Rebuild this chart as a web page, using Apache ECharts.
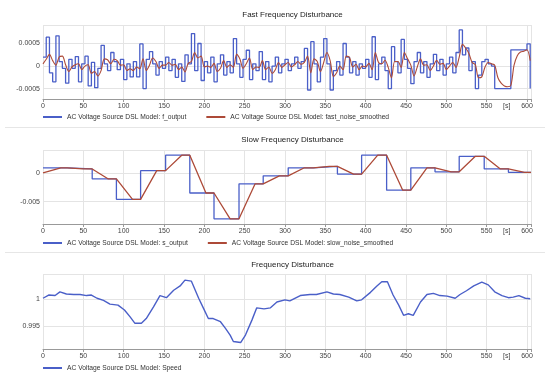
<!DOCTYPE html>
<html><head><meta charset="utf-8">
<script src="https://cdn.jsdelivr.net/npm/echarts@6/dist/echarts.min.js"></script>
<style>html,body{margin:0;padding:0;background:#fff}#c{width:550px;height:381px}</style>
</head><body><div id="c"></div>
<script>
// ---------- data ----------
const xTickLabels = ['0','50','100','150','200','250','300','350','400','450','500','550','[s]','600'];
const xTickValues = [0,50,100,150,200,250,300,350,400,450,500,550,575,600];

// Fast disturbance (values in 1e-4), sampled every 4 s
const fastStepSec = 4;
const fOutput = [
 2, 6.4, -1.5, -3.5, 6.7, 1.0, -0.5, -3.8, 1.5, -0.5,
 2.1, -3.5, 0.5, 2.2, -4.4, 0.8, -4.8, -0.5, 4.6, 0.5,
 -1.0, 3.0, 1.0, -0.8, 1.5, -3.0, 0.5, -2.4, 1.0, -2.4,
 4.9, -5.0, 1.5, 3.2, 0.5, -2.0, 1.0, -0.5, 2.0, -1.0,
 1.5, -2.5, 0.5, -3.4, 2.5, 0.5, 7.2, -1.0, 5.0, -3.2,
 1.0, -1.5, 2.0, -3.5, 0.5, 2.5, -2.0, 1.0, -1.5, 6.1,
 0.5, -2.5, 1.5, 3.5, -3.0, 0.5, -1.0, 3.2, -3.0, 1.0,
 -3.5, 0.0, 2.0, -1.5, 0.5, 1.5, -1.0, 0.5, 2.0, -0.5,
 1.0, 3.9, -5.3, 5.4, 0.5, -3.5, 2.0, 6.1, 0.5, -5.3,
 -1.0, 1.0, -2.0, 5.0, 2.0, -1.5, 1.0, -2.0, 0.5, -0.5,
 1.5, -2.5, 6.5, -3.0, 0.5, 2.0, -1.0, -5.0, 4.3, 1.0,
 -1.5, 5.9, 1.5, -0.5, -3.9, 1.0, 3.0, -1.5, 1.0, -2.5,
 0.5, 2.6, -1.0, 1.5, -2.0, 0.5, 2.0, -1.5, 3.0, 8.0,
 2.5, 4.0, -1.0, 1.0, -5.0, -2.0, 1.0, 1.5, 0.5, 0.0,
 -5.0, -5.0, -5.0, -5.0, -5.0, 3.6, 3.6, 3.6, 3.6, 3.6,
 4.9, -5.0
];
const fastNoiseSmoothed = [
 0.5, 1.5, 2.6, 1.2, 0.2, 2.0, 2.2, 0.3, -1.2, -0.2,
 0.3, 0.5, -0.8, 0, 0.3, -1.6, -1.2, -2.2, -1.0, 1.6,
 1.4, 0.5, 1.5, 1.2, 0.2, 0.3, -1.0, -0.6, -1.0, -0.2,
 -0.6, 1.6, -1.0, 0.2, 1.8, 1.0, -0.5, 0.2, 0.2, 0.8,
 0.2, 0.4, -0.8, -0.2, -1.3, 0.6, 1.0, 3.0, 1.8, 2.2,
 -0.2, 0, -0.3, 0.6, -1.2, -0.5, 1.2, -0.3, 0.3, -0.3,
 2.6, 1.6, -0.5, 0.5, 1.8, -0.8, -0.2, -0.3, 1.2, -0.8,
 -0.2, -1.6, -0.8, 0.8, -0.3, 0.3, 0.8, -0.2, 0.3, 1.0,
 0.4, 0.8, 2.2, -1.5, 1.6, 1.0, -1.2, 0.8, 3.0, 1.2,
 -2.3, -1.5, 0, -0.8, 2.2, 1.9, -0.2, 0.4, -0.8, 0,
 -0.2, 0.6, -0.8, 3.0, 0.8, 0.5, 1.3, -0.3, -2.6, 1.0,
 1.0, -0.3, 3.0, 1.6, 0.2, -2.2, -0.2, 1.6, 0.2, 0.3,
 -1.0, 0, 1.3, 0.4, 0.6, -0.8, 0, 0.8, -0.3, 2.0,
 4.8, 4.0, 2.8, 0.8, 0.3, -2.6, -2.4, -0.2, 0.8, 0.5,
 0.2, -2.6, -3.8, -4.4, -4.6, -4.3, 0.2, 2.3, 3.1, 3.3,
 3.6, 1.2
];

// Slow disturbance (values in 1e-3)
const sOutputT = [0,30,61,91,121,152,182,212,243,273,304,335,365,395,426,456,486,516,547,577,605];
const sOutputV = [0.9,0.7,-1.05,-4.6,0.4,3.1,-3.5,-8.0,-1.9,-0.5,0.9,1.15,-0.2,3.1,-3.0,0.9,0.2,2.9,0.7,0.1,0.1];
const slowSmoothT = [0,22,30,50,61,81,91,111,121,141,152,172,182,202,212,232,243,263,273,293,304,324,335,355,365,385,395,415,426,446,456,476,486,506,516,536,547,567,577,597,605];
const slowSmoothV = [0,0.9,0.9,0.7,0.7,-1.05,-1.05,-4.6,-4.6,0.4,0.4,3.1,3.1,-3.5,-3.5,-8.0,-8.0,-1.9,-1.9,-0.5,-0.5,0.9,0.9,1.15,1.15,-0.2,-0.2,3.1,3.1,-3.0,-3.0,0.9,0.9,0.2,0.2,2.9,2.9,0.7,0.7,0.1,0.1];

// Speed
const speedT = [0,7,15,21,29,38,46,54,60,67,75,83,93,101,108,114,122,128,137,145,153,162,170,176,184,193,199,205,211,220,226,232,236,245,251,259,265,274,282,290,300,306,319,331,339,352,360,368,379,389,395,406,414,420,427,434,441,447,453,459,468,476,484,492,501,511,517,525,534,544,552,560,569,577,583,590,598,604];
const speedV = [1.0002,1.0008,1.0007,1.0014,1.0010,1.0009,1.0009,1.0007,1.0008,1.0002,0.9998,0.9991,0.9989,0.9980,0.9967,0.9955,0.9955,0.9964,0.9986,1.0007,1.0003,1.0017,1.0025,1.0036,1.0034,1.0002,0.9983,0.9964,0.9964,0.9958,0.9946,0.9933,0.9921,0.9919,0.9933,0.9961,0.9984,0.9982,0.9984,0.9995,0.9999,0.9997,1.0007,1.0009,1.0009,1.0014,1.0010,1.0009,1.0004,0.9997,0.9999,1.0013,1.0025,1.0033,1.0033,1.0008,0.9989,0.9970,0.9973,0.9970,0.9995,1.0009,1.0011,1.0007,1.0006,1.0002,1.0009,1.0016,1.0025,1.0032,1.0027,1.0014,1.0007,1.0003,1.0004,1.0007,1.0002,1.0001];

const titles = ['Fast Frequency Disturbance','Slow Frequency Disturbance','Frequency Disturbance'];
const names = ['AC Voltage Source DSL Model: f_output','AC Voltage Source DSL Model: fast_noise_smoothed',
  'AC Voltage Source DSL Model: s_output','AC Voltage Source DSL Model: slow_noise_smoothed',
  'AC Voltage Source DSL Model: Speed'];

// ---------- build ----------
const FONT = 'Liberation Sans, Arial, sans-serif';
const BLUE = '#4a5fc8', RED = '#ad4a38';
const pan = [
  {top:25, h:74, ymin:-0.00073, ymax:0.00091, title:5.5, legend:113.5},
  {top:150, h:74, ymin:-0.0089, ymax:0.0040, title:130.5, legend:239.5},
  {top:274, h:75, ymin:0.99069, ymax:1.00474, title:255.5, legend:364.5}
];
const fastPts = fOutput.map((v,i)=>[i*fastStepSec, v*1e-4]);
const fastSm = fastNoiseSmoothed.map((v,i)=>[i*fastStepSec, v*1e-4]);
const sPts = sOutputT.map((t,i)=>[t, sOutputV[i]*1e-3]);
const sSm = slowSmoothT.map((t,i)=>[t, slowSmoothV[i]*1e-3]);
const spPts = speedT.map((t,i)=>[t, speedV[i]]);

const option = {
  animation:false,
  backgroundColor:'#fff',
  textStyle:{fontFamily:FONT},
  title: pan.map((p,i)=>({text:titles[i], left:287.5, textAlign:'center', top:p.title,
    textStyle:{fontSize:8, fontWeight:'normal', color:'#222', fontFamily:FONT}})),
  legend: [
    {data:[names[0],names[1]]},
    {data:[names[2],names[3]]},
    {data:[names[4]]}
  ].map((l,i)=>Object.assign(l,{left:43, top:pan[i].legend, padding:0, itemGap:20, itemWidth:19, itemHeight:2,
     icon:'rect', textStyle:{fontSize:6.7, color:'#333', fontFamily:FONT}})),
  grid: pan.map(p=>({left:43, right:19, top:p.top, height:p.h})),
  xAxis: pan.map((p,i)=>({type:'value', gridIndex:i, min:0, max:605, interval:50,
    axisLine:{onZero:false, lineStyle:{color:'#999'}}, axisTick:{show:true,length:3,lineStyle:{color:'#999'}},
    splitLine:{show:true, lineStyle:{color:'#e4e4e4', width:1}},
    axisLabel:{fontSize:7, color:'#444', margin:4,
      customValues:xTickValues,
      formatter:(v)=>{const k=xTickValues.indexOf(v); return k>=0?xTickLabels[k]:'';}}})),
  yAxis: pan.map((p,i)=>({type:'value', gridIndex:i, min:p.ymin, max:p.ymax, splitNumber:3,
    axisLine:{show:false}, axisTick:{show:false},
    splitLine:{show:true, lineStyle:{color:'#e4e4e4', width:1}},
    axisLabel:{fontSize:7, color:'#444', margin:3, showMinLabel:false, showMaxLabel:false}})),
  graphic:[
    {type:'line', shape:{x1:5,y1:127.5,x2:545,y2:127.5}, style:{stroke:'#e6e6e6', lineWidth:1}},
    {type:'line', shape:{x1:5,y1:252.5,x2:545,y2:252.5}, style:{stroke:'#e6e6e6', lineWidth:1}}
  ],
  series:[
    {name:names[0], type:'line', xAxisIndex:0, yAxisIndex:0, data:fastPts, step:'end', showSymbol:false,
      lineStyle:{color:BLUE, width:1.3}, itemStyle:{color:BLUE}},
    {name:names[1], type:'line', xAxisIndex:0, yAxisIndex:0, data:fastSm, smooth:0.3, showSymbol:false,
      lineStyle:{color:RED, width:1.1}, itemStyle:{color:RED}},
    {name:names[2], type:'line', xAxisIndex:1, yAxisIndex:1, data:sPts, step:'end', showSymbol:false,
      lineStyle:{color:BLUE, width:1.3}, itemStyle:{color:BLUE}},
    {name:names[3], type:'line', xAxisIndex:1, yAxisIndex:1, data:sSm, showSymbol:false,
      lineStyle:{color:RED, width:1.3}, itemStyle:{color:RED}},
    {name:names[4], type:'line', xAxisIndex:2, yAxisIndex:2, data:spPts, showSymbol:false,
      lineStyle:{color:BLUE, width:1.4}, itemStyle:{color:BLUE}}
  ]
};
const chart = echarts.init(document.getElementById('c'), null, {renderer:'canvas'});
chart.setOption(option);
</script></body></html>
